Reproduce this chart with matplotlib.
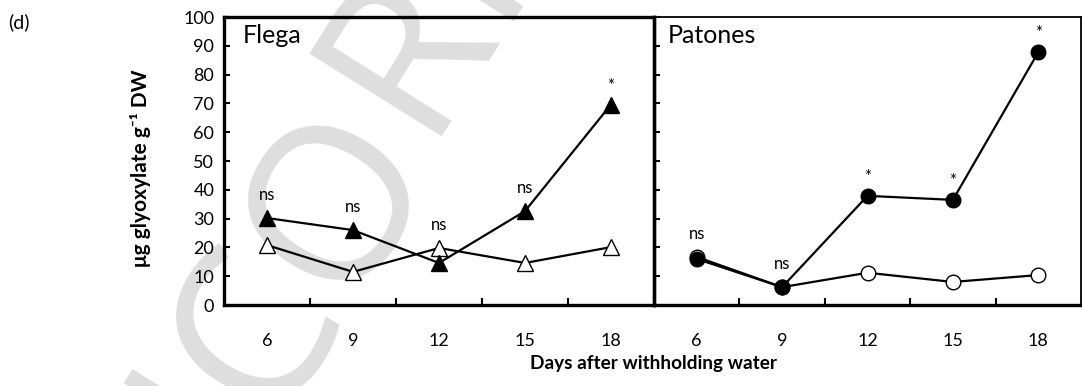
import numpy as np
import matplotlib
matplotlib.use('Agg')
import matplotlib.pyplot as plt

plt.rcParams['font.family'] = ['Lato', 'DejaVu Sans']

days = ['6', '9', '12', '15', '18']

# Flega (triangles)
flega_stress = [30.2, 26.0, 14.6, 32.6, 69.6]
flega_ctrl = [20.8, 11.5, 19.8, 14.6, 20.1]
flega_sig = ['ns', 'ns', 'ns', 'ns', '*']

# Patones (circles)
patones_stress = [16.0, 6.2, 37.9, 36.5, 87.8]
patones_ctrl = [16.7, 6.2, 11.2, 8.0, 10.4]
patones_sig = ['ns', 'ns', '*', '*', '*']

fig = plt.figure(figsize=(10.82, 3.86), dpi=100)

# faint watermark behind everything
wm = dict(fontsize=158, color='#dedede', rotation=58, rotation_mode='anchor',
          va='center', zorder=-1, family='Open Sans')
fig.text(383/1082, 1-124/386, 'UNCO', ha='right', **wm)
fig.text(383/1082, 1-124/386, 'RRECTED PROOF', ha='left', **wm)

ax1 = fig.add_axes([224/1082, 1-305/386, 430/1082, 288/386])
ax2 = fig.add_axes([654/1082, 1-305/386, 427/1082, 288/386])

x = np.arange(len(days))

def panel(ax, stress, ctrl, sig, marker, ms, name, namex):
    ax.patch.set_alpha(0)
    ax.plot(x, ctrl, color='k', lw=1.6, marker=marker, ms=ms,
            mfc='white', mec='k', mew=1.0, zorder=3)
    ax.plot(x, stress, color='k', lw=1.6, marker=marker, ms=ms,
            mfc='k', mec='k', zorder=4)
    for i, s in enumerate(sig):
        top = max(stress[i], ctrl[i])
        if s == '*':
            ax.text(x[i], top + 6.5, s, ha='center', va='center', fontsize=12)
        else:
            ax.text(x[i], top + 8, s, ha='center', va='center', fontsize=12)
    ax.text(namex, 0.975, name, transform=ax.transAxes, ha='left', va='top', fontsize=18)
    ax.set_xlim(-0.5, 4.5)
    ax.set_ylim(0, 100)
    ax.set_xticks(x)
    ax.set_xticklabels(days)
    ax.set_xticks(x[:-1] + 0.5, minor=True)
    ax.tick_params(axis='x', which='major', length=0, pad=20, labelsize=13)
    ax.tick_params(axis='x', which='minor', direction='in', length=5, width=1.5)
    ax.set_yticks(np.arange(0, 101, 10))
    ax.tick_params(axis='y', direction='in', length=4, width=1.5, labelsize=13, pad=7)

panel(ax1, flega_stress, flega_ctrl, flega_sig, '^', 11, 'Flega', 0.044)
panel(ax2, patones_stress, patones_ctrl, patones_sig, 'o', 10.5, 'Patones', 0.033)

for sp in ax1.spines.values():
    sp.set_linewidth(2.4)
ax2.tick_params(axis='y', labelleft=False)
ax2.spines['left'].set_linewidth(2.4)
ax2.spines['bottom'].set_linewidth(2.4)
ax2.spines['top'].set_linewidth(1.3)
ax2.spines['right'].set_linewidth(1.3)

ax1.set_ylabel('μg glyoxylate g⁻¹ DW', fontsize=15, fontweight='bold')
ax1.yaxis.set_label_coords(-0.17, 0.476)
fig.text(654/1082, 1-364/386, 'Days after withholding water', ha='center', va='center',
         fontsize=13.7, fontweight='bold')
fig.text(8/1082, 1-22/386, '(d)', ha='left', va='center', fontsize=14)

fig.savefig('out.png', dpi=100)
